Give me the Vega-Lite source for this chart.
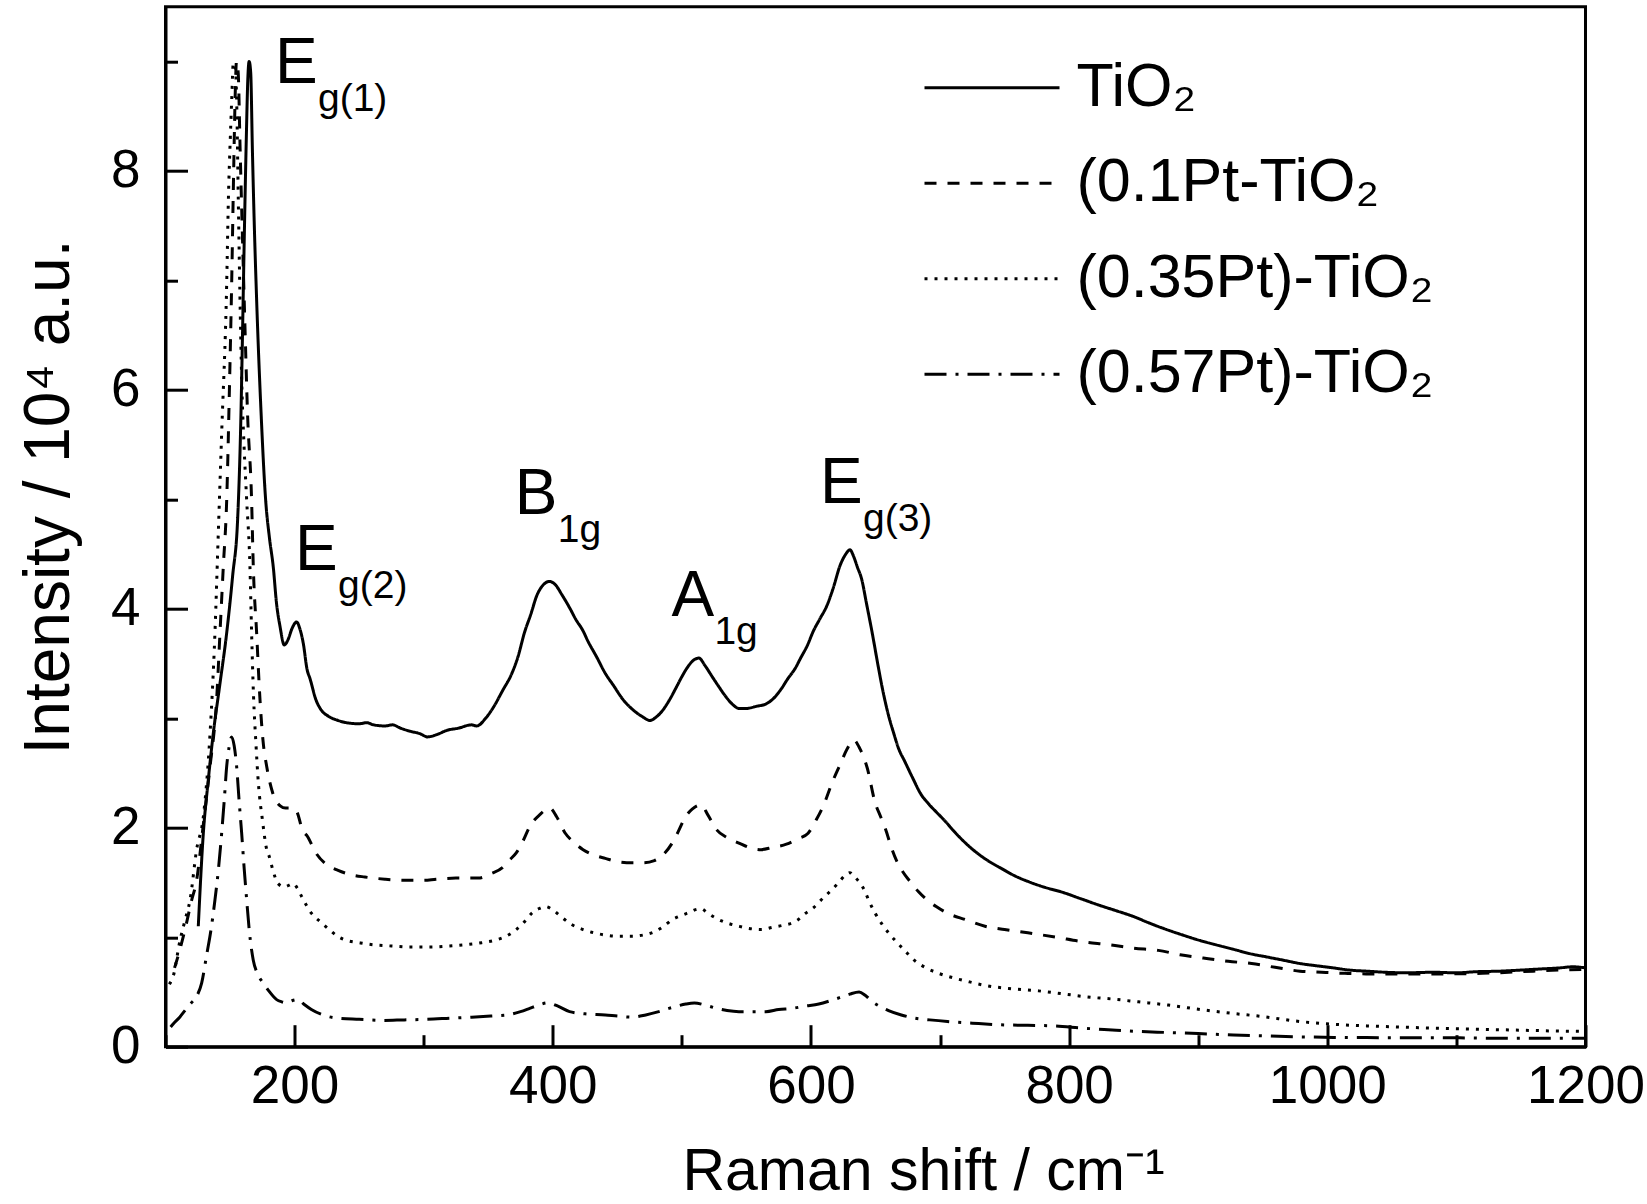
{
  "$schema": "https://vega.github.io/schema/vega-lite/v6.json",
  "width": 1420,
  "height": 1040,
  "autosize": {"type": "none"},
  "padding": {"left": 165.5, "top": 6.7, "right": 61.5, "bottom": 157.3},
  "background": "white",
  "config": {
    "font": "Liberation Sans",
    "view": {"stroke": "black", "strokeWidth": 3},
    "axis": {"domainColor": "black", "domainWidth": 3, "tickColor": "black", "tickWidth": 3, "labelColor": "black", "titleColor": "black", "grid": false, "labelFont": "Liberation Sans", "titleFont": "Liberation Sans", "titleFontWeight": "normal"}
  },
  "datasets": {
    "spectra": [
      {"s": "TiO₂", "x": 125.4, "y": 1.10}, {"s": "TiO₂", "x": 129.3, "y": 1.95}, {"s": "TiO₂", "x": 133, "y": 2.42}, {"s": "TiO₂", "x": 137, "y": 2.86}, {"s": "TiO₂", "x": 142, "y": 3.30}, {"s": "TiO₂", "x": 147.4, "y": 3.78}, {"s": "TiO₂", "x": 152, "y": 4.30}, {"s": "TiO₂", "x": 156, "y": 4.85}, {"s": "TiO₂", "x": 158.3, "y": 5.7}, {"s": "TiO₂", "x": 159.8, "y": 6.6}, {"s": "TiO₂", "x": 161.2, "y": 7.5}, {"s": "TiO₂", "x": 162.6, "y": 8.3}, {"s": "TiO₂", "x": 163.8, "y": 8.85}, {"s": "TiO₂", "x": 164.8, "y": 9.0}, {"s": "TiO₂", "x": 166.0, "y": 8.9}, {"s": "TiO₂", "x": 167.3, "y": 8.2}, {"s": "TiO₂", "x": 168.8, "y": 7.5}, {"s": "TiO₂", "x": 170.6, "y": 6.82}, {"s": "TiO₂", "x": 174, "y": 5.8}, {"s": "TiO₂", "x": 177.6, "y": 4.99}, {"s": "TiO₂", "x": 180.5, "y": 4.65}, {"s": "TiO₂", "x": 183.5, "y": 4.38}, {"s": "TiO₂", "x": 186, "y": 4.05}, {"s": "TiO₂", "x": 188.7, "y": 3.84}, {"s": "TiO₂", "x": 192, "y": 3.67}, {"s": "TiO₂", "x": 195, "y": 3.72}, {"s": "TiO₂", "x": 198, "y": 3.82}, {"s": "TiO₂", "x": 201.6, "y": 3.88}, {"s": "TiO₂", "x": 204, "y": 3.82}, {"s": "TiO₂", "x": 206.8, "y": 3.68}, {"s": "TiO₂", "x": 209.6, "y": 3.45}, {"s": "TiO₂", "x": 212, "y": 3.36}, {"s": "TiO₂", "x": 216.5, "y": 3.17}, {"s": "TiO₂", "x": 221, "y": 3.07}, {"s": "TiO₂", "x": 226, "y": 3.02}, {"s": "TiO₂", "x": 233.7, "y": 2.98}, {"s": "TiO₂", "x": 240, "y": 2.96}, {"s": "TiO₂", "x": 250, "y": 2.95}, {"s": "TiO₂", "x": 256, "y": 2.96}, {"s": "TiO₂", "x": 261, "y": 2.94}, {"s": "TiO₂", "x": 270, "y": 2.93}, {"s": "TiO₂", "x": 276, "y": 2.94}, {"s": "TiO₂", "x": 282, "y": 2.91}, {"s": "TiO₂", "x": 290, "y": 2.88}, {"s": "TiO₂", "x": 297, "y": 2.86}, {"s": "TiO₂", "x": 303, "y": 2.83}, {"s": "TiO₂", "x": 310, "y": 2.85}, {"s": "TiO₂", "x": 318, "y": 2.89}, {"s": "TiO₂", "x": 327, "y": 2.91}, {"s": "TiO₂", "x": 337, "y": 2.94}, {"s": "TiO₂", "x": 341, "y": 2.93}, {"s": "TiO₂", "x": 348, "y": 3.00}, {"s": "TiO₂", "x": 354.5, "y": 3.11}, {"s": "TiO₂", "x": 361, "y": 3.25}, {"s": "TiO₂", "x": 368.3, "y": 3.41}, {"s": "TiO₂", "x": 373, "y": 3.56}, {"s": "TiO₂", "x": 378, "y": 3.78}, {"s": "TiO₂", "x": 383, "y": 3.95}, {"s": "TiO₂", "x": 387.6, "y": 4.12}, {"s": "TiO₂", "x": 392, "y": 4.21}, {"s": "TiO₂", "x": 397.3, "y": 4.25}, {"s": "TiO₂", "x": 402, "y": 4.22}, {"s": "TiO₂", "x": 407, "y": 4.13}, {"s": "TiO₂", "x": 413, "y": 4.01}, {"s": "TiO₂", "x": 418, "y": 3.90}, {"s": "TiO₂", "x": 423.4, "y": 3.80}, {"s": "TiO₂", "x": 427, "y": 3.71}, {"s": "TiO₂", "x": 434, "y": 3.56}, {"s": "TiO₂", "x": 440.7, "y": 3.41}, {"s": "TiO₂", "x": 447, "y": 3.30}, {"s": "TiO₂", "x": 454.5, "y": 3.17}, {"s": "TiO₂", "x": 460, "y": 3.10}, {"s": "TiO₂", "x": 465, "y": 3.05}, {"s": "TiO₂", "x": 470, "y": 3.01}, {"s": "TiO₂", "x": 475.2, "y": 2.98}, {"s": "TiO₂", "x": 480, "y": 3.01}, {"s": "TiO₂", "x": 485.6, "y": 3.08}, {"s": "TiO₂", "x": 491, "y": 3.18}, {"s": "TiO₂", "x": 496, "y": 3.29}, {"s": "TiO₂", "x": 500, "y": 3.38}, {"s": "TiO₂", "x": 504.6, "y": 3.47}, {"s": "TiO₂", "x": 509, "y": 3.53}, {"s": "TiO₂", "x": 513.2, "y": 3.55}, {"s": "TiO₂", "x": 518, "y": 3.48}, {"s": "TiO₂", "x": 523.5, "y": 3.38}, {"s": "TiO₂", "x": 528, "y": 3.30}, {"s": "TiO₂", "x": 533.9, "y": 3.20}, {"s": "TiO₂", "x": 539, "y": 3.13}, {"s": "TiO₂", "x": 544.2, "y": 3.09}, {"s": "TiO₂", "x": 550, "y": 3.09}, {"s": "TiO₂", "x": 558, "y": 3.11}, {"s": "TiO₂", "x": 565, "y": 3.13}, {"s": "TiO₂", "x": 570, "y": 3.17}, {"s": "TiO₂", "x": 577.1, "y": 3.27}, {"s": "TiO₂", "x": 582, "y": 3.36}, {"s": "TiO₂", "x": 588, "y": 3.46}, {"s": "TiO₂", "x": 592, "y": 3.55}, {"s": "TiO₂", "x": 597, "y": 3.66}, {"s": "TiO₂", "x": 602, "y": 3.80}, {"s": "TiO₂", "x": 607, "y": 3.91}, {"s": "TiO₂", "x": 612.4, "y": 4.03}, {"s": "TiO₂", "x": 617, "y": 4.18}, {"s": "TiO₂", "x": 622.7, "y": 4.40}, {"s": "TiO₂", "x": 627, "y": 4.50}, {"s": "TiO₂", "x": 630.2, "y": 4.54}, {"s": "TiO₂", "x": 633, "y": 4.48}, {"s": "TiO₂", "x": 636, "y": 4.38}, {"s": "TiO₂", "x": 639.3, "y": 4.27}, {"s": "TiO₂", "x": 643, "y": 4.05}, {"s": "TiO₂", "x": 647.6, "y": 3.77}, {"s": "TiO₂", "x": 652, "y": 3.48}, {"s": "TiO₂", "x": 655.9, "y": 3.24}, {"s": "TiO₂", "x": 660, "y": 3.03}, {"s": "TiO₂", "x": 664.2, "y": 2.86}, {"s": "TiO₂", "x": 668, "y": 2.72}, {"s": "TiO₂", "x": 672.5, "y": 2.61}, {"s": "TiO₂", "x": 679, "y": 2.45}, {"s": "TiO₂", "x": 685, "y": 2.31}, {"s": "TiO₂", "x": 691, "y": 2.22}, {"s": "TiO₂", "x": 697.4, "y": 2.14}, {"s": "TiO₂", "x": 704, "y": 2.06}, {"s": "TiO₂", "x": 709.9, "y": 1.98}, {"s": "TiO₂", "x": 718, "y": 1.88}, {"s": "TiO₂", "x": 726.5, "y": 1.79}, {"s": "TiO₂", "x": 737, "y": 1.70}, {"s": "TiO₂", "x": 747.2, "y": 1.63}, {"s": "TiO₂", "x": 758, "y": 1.56}, {"s": "TiO₂", "x": 768, "y": 1.51}, {"s": "TiO₂", "x": 780, "y": 1.46}, {"s": "TiO₂", "x": 795, "y": 1.41}, {"s": "TiO₂", "x": 809.4, "y": 1.35}, {"s": "TiO₂", "x": 823.9, "y": 1.29}, {"s": "TiO₂", "x": 837, "y": 1.24}, {"s": "TiO₂", "x": 849.7, "y": 1.19}, {"s": "TiO₂", "x": 862, "y": 1.13}, {"s": "TiO₂", "x": 875.5, "y": 1.07}, {"s": "TiO₂", "x": 888, "y": 1.02}, {"s": "TiO₂", "x": 901.4, "y": 0.97}, {"s": "TiO₂", "x": 914, "y": 0.93}, {"s": "TiO₂", "x": 927.2, "y": 0.89}, {"s": "TiO₂", "x": 940, "y": 0.85}, {"s": "TiO₂", "x": 953, "y": 0.82}, {"s": "TiO₂", "x": 966, "y": 0.79}, {"s": "TiO₂", "x": 978.8, "y": 0.76}, {"s": "TiO₂", "x": 991, "y": 0.74}, {"s": "TiO₂", "x": 1004.6, "y": 0.72}, {"s": "TiO₂", "x": 1017, "y": 0.70}, {"s": "TiO₂", "x": 1030.5, "y": 0.69}, {"s": "TiO₂", "x": 1045, "y": 0.68}, {"s": "TiO₂", "x": 1060, "y": 0.675}, {"s": "TiO₂", "x": 1082, "y": 0.68}, {"s": "TiO₂", "x": 1100, "y": 0.675}, {"s": "TiO₂", "x": 1115, "y": 0.685}, {"s": "TiO₂", "x": 1133.7, "y": 0.69}, {"s": "TiO₂", "x": 1150, "y": 0.70}, {"s": "TiO₂", "x": 1165, "y": 0.71}, {"s": "TiO₂", "x": 1180, "y": 0.72}, {"s": "TiO₂", "x": 1190, "y": 0.73}, {"s": "TiO₂", "x": 1200, "y": 0.72},

      {"s": "(0.1Pt-TiO₂", "x": 107, "y": 0.72}, {"s": "(0.1Pt-TiO₂", "x": 111, "y": 0.88}, {"s": "(0.1Pt-TiO₂", "x": 115.1, "y": 1.07}, {"s": "(0.1Pt-TiO₂", "x": 120.3, "y": 1.34}, {"s": "(0.1Pt-TiO₂", "x": 124.1, "y": 1.52}, {"s": "(0.1Pt-TiO₂", "x": 129, "y": 2.0}, {"s": "(0.1Pt-TiO₂", "x": 134.5, "y": 2.56}, {"s": "(0.1Pt-TiO₂", "x": 139.6, "y": 3.17}, {"s": "(0.1Pt-TiO₂", "x": 142.2, "y": 3.78}, {"s": "(0.1Pt-TiO₂", "x": 144.8, "y": 4.39}, {"s": "(0.1Pt-TiO₂", "x": 147.4, "y": 4.99}, {"s": "(0.1Pt-TiO₂", "x": 149.5, "y": 6.0}, {"s": "(0.1Pt-TiO₂", "x": 151.3, "y": 7.0}, {"s": "(0.1Pt-TiO₂", "x": 152.8, "y": 8.0}, {"s": "(0.1Pt-TiO₂", "x": 154, "y": 8.7}, {"s": "(0.1Pt-TiO₂", "x": 155, "y": 9.0}, {"s": "(0.1Pt-TiO₂", "x": 156.3, "y": 8.9}, {"s": "(0.1Pt-TiO₂", "x": 157.8, "y": 8.2}, {"s": "(0.1Pt-TiO₂", "x": 159.6, "y": 7.4}, {"s": "(0.1Pt-TiO₂", "x": 161.5, "y": 6.6}, {"s": "(0.1Pt-TiO₂", "x": 163.5, "y": 5.8}, {"s": "(0.1Pt-TiO₂", "x": 166.7, "y": 4.99}, {"s": "(0.1Pt-TiO₂", "x": 168, "y": 4.39}, {"s": "(0.1Pt-TiO₂", "x": 170.6, "y": 3.78}, {"s": "(0.1Pt-TiO₂", "x": 173.2, "y": 3.17}, {"s": "(0.1Pt-TiO₂", "x": 175.5, "y": 2.80}, {"s": "(0.1Pt-TiO₂", "x": 178.4, "y": 2.56}, {"s": "(0.1Pt-TiO₂", "x": 183, "y": 2.32}, {"s": "(0.1Pt-TiO₂", "x": 188.9, "y": 2.20}, {"s": "(0.1Pt-TiO₂", "x": 193, "y": 2.18}, {"s": "(0.1Pt-TiO₂", "x": 199.2, "y": 2.18}, {"s": "(0.1Pt-TiO₂", "x": 202, "y": 2.14}, {"s": "(0.1Pt-TiO₂", "x": 206.1, "y": 1.98}, {"s": "(0.1Pt-TiO₂", "x": 210, "y": 1.92}, {"s": "(0.1Pt-TiO₂", "x": 216.5, "y": 1.77}, {"s": "(0.1Pt-TiO₂", "x": 224, "y": 1.67}, {"s": "(0.1Pt-TiO₂", "x": 233.7, "y": 1.61}, {"s": "(0.1Pt-TiO₂", "x": 244, "y": 1.57}, {"s": "(0.1Pt-TiO₂", "x": 254.4, "y": 1.55}, {"s": "(0.1Pt-TiO₂", "x": 270, "y": 1.53}, {"s": "(0.1Pt-TiO₂", "x": 285.5, "y": 1.52}, {"s": "(0.1Pt-TiO₂", "x": 300, "y": 1.52}, {"s": "(0.1Pt-TiO₂", "x": 309.6, "y": 1.53}, {"s": "(0.1Pt-TiO₂", "x": 325, "y": 1.54}, {"s": "(0.1Pt-TiO₂", "x": 342.4, "y": 1.54}, {"s": "(0.1Pt-TiO₂", "x": 352, "y": 1.58}, {"s": "(0.1Pt-TiO₂", "x": 361.4, "y": 1.64}, {"s": "(0.1Pt-TiO₂", "x": 366, "y": 1.70}, {"s": "(0.1Pt-TiO₂", "x": 371.7, "y": 1.77}, {"s": "(0.1Pt-TiO₂", "x": 377, "y": 1.88}, {"s": "(0.1Pt-TiO₂", "x": 382.1, "y": 2.01}, {"s": "(0.1Pt-TiO₂", "x": 390, "y": 2.12}, {"s": "(0.1Pt-TiO₂", "x": 397.6, "y": 2.18}, {"s": "(0.1Pt-TiO₂", "x": 403, "y": 2.10}, {"s": "(0.1Pt-TiO₂", "x": 409.7, "y": 1.95}, {"s": "(0.1Pt-TiO₂", "x": 416, "y": 1.87}, {"s": "(0.1Pt-TiO₂", "x": 423.5, "y": 1.80}, {"s": "(0.1Pt-TiO₂", "x": 432, "y": 1.75}, {"s": "(0.1Pt-TiO₂", "x": 440.7, "y": 1.72}, {"s": "(0.1Pt-TiO₂", "x": 450, "y": 1.69}, {"s": "(0.1Pt-TiO₂", "x": 461.4, "y": 1.68}, {"s": "(0.1Pt-TiO₂", "x": 470, "y": 1.68}, {"s": "(0.1Pt-TiO₂", "x": 478.7, "y": 1.70}, {"s": "(0.1Pt-TiO₂", "x": 486, "y": 1.76}, {"s": "(0.1Pt-TiO₂", "x": 492.5, "y": 1.86}, {"s": "(0.1Pt-TiO₂", "x": 497, "y": 1.96}, {"s": "(0.1Pt-TiO₂", "x": 502.8, "y": 2.10}, {"s": "(0.1Pt-TiO₂", "x": 508, "y": 2.17}, {"s": "(0.1Pt-TiO₂", "x": 514.9, "y": 2.21}, {"s": "(0.1Pt-TiO₂", "x": 520, "y": 2.12}, {"s": "(0.1Pt-TiO₂", "x": 527, "y": 1.98}, {"s": "(0.1Pt-TiO₂", "x": 535, "y": 1.91}, {"s": "(0.1Pt-TiO₂", "x": 544.2, "y": 1.86}, {"s": "(0.1Pt-TiO₂", "x": 552, "y": 1.82}, {"s": "(0.1Pt-TiO₂", "x": 561.5, "y": 1.80}, {"s": "(0.1Pt-TiO₂", "x": 570, "y": 1.82}, {"s": "(0.1Pt-TiO₂", "x": 581, "y": 1.85}, {"s": "(0.1Pt-TiO₂", "x": 590, "y": 1.90}, {"s": "(0.1Pt-TiO₂", "x": 597.8, "y": 1.95}, {"s": "(0.1Pt-TiO₂", "x": 604, "y": 2.07}, {"s": "(0.1Pt-TiO₂", "x": 610.3, "y": 2.22}, {"s": "(0.1Pt-TiO₂", "x": 616, "y": 2.40}, {"s": "(0.1Pt-TiO₂", "x": 622.7, "y": 2.58}, {"s": "(0.1Pt-TiO₂", "x": 628, "y": 2.72}, {"s": "(0.1Pt-TiO₂", "x": 633.1, "y": 2.80}, {"s": "(0.1Pt-TiO₂", "x": 638, "y": 2.72}, {"s": "(0.1Pt-TiO₂", "x": 643.5, "y": 2.55}, {"s": "(0.1Pt-TiO₂", "x": 649.7, "y": 2.23}, {"s": "(0.1Pt-TiO₂", "x": 654, "y": 2.10}, {"s": "(0.1Pt-TiO₂", "x": 658, "y": 1.98}, {"s": "(0.1Pt-TiO₂", "x": 662, "y": 1.83}, {"s": "(0.1Pt-TiO₂", "x": 666.3, "y": 1.70}, {"s": "(0.1Pt-TiO₂", "x": 671, "y": 1.60}, {"s": "(0.1Pt-TiO₂", "x": 676.7, "y": 1.51}, {"s": "(0.1Pt-TiO₂", "x": 683, "y": 1.42}, {"s": "(0.1Pt-TiO₂", "x": 689.1, "y": 1.35}, {"s": "(0.1Pt-TiO₂", "x": 697, "y": 1.28}, {"s": "(0.1Pt-TiO₂", "x": 705.7, "y": 1.22}, {"s": "(0.1Pt-TiO₂", "x": 720, "y": 1.16}, {"s": "(0.1Pt-TiO₂", "x": 734.8, "y": 1.10}, {"s": "(0.1Pt-TiO₂", "x": 750, "y": 1.07}, {"s": "(0.1Pt-TiO₂", "x": 768, "y": 1.04}, {"s": "(0.1Pt-TiO₂", "x": 790, "y": 1.00}, {"s": "(0.1Pt-TiO₂", "x": 809.4, "y": 0.96}, {"s": "(0.1Pt-TiO₂", "x": 831.6, "y": 0.93}, {"s": "(0.1Pt-TiO₂", "x": 849.7, "y": 0.90}, {"s": "(0.1Pt-TiO₂", "x": 869.1, "y": 0.88}, {"s": "(0.1Pt-TiO₂", "x": 885.9, "y": 0.84}, {"s": "(0.1Pt-TiO₂", "x": 903.9, "y": 0.81}, {"s": "(0.1Pt-TiO₂", "x": 923.3, "y": 0.78}, {"s": "(0.1Pt-TiO₂", "x": 941.4, "y": 0.76}, {"s": "(0.1Pt-TiO₂", "x": 959.5, "y": 0.725}, {"s": "(0.1Pt-TiO₂", "x": 978.8, "y": 0.69}, {"s": "(0.1Pt-TiO₂", "x": 995.6, "y": 0.68}, {"s": "(0.1Pt-TiO₂", "x": 1013.7, "y": 0.67}, {"s": "(0.1Pt-TiO₂", "x": 1030, "y": 0.665}, {"s": "(0.1Pt-TiO₂", "x": 1060, "y": 0.665}, {"s": "(0.1Pt-TiO₂", "x": 1090, "y": 0.665}, {"s": "(0.1Pt-TiO₂", "x": 1120, "y": 0.67}, {"s": "(0.1Pt-TiO₂", "x": 1150, "y": 0.685}, {"s": "(0.1Pt-TiO₂", "x": 1180, "y": 0.70}, {"s": "(0.1Pt-TiO₂", "x": 1200, "y": 0.705},

      {"s": "(0.35Pt)-TiO₂", "x": 103, "y": 0.57}, {"s": "(0.35Pt)-TiO₂", "x": 106.1, "y": 0.65}, {"s": "(0.35Pt)-TiO₂", "x": 111.2, "y": 0.97}, {"s": "(0.35Pt)-TiO₂", "x": 115, "y": 1.15}, {"s": "(0.35Pt)-TiO₂", "x": 119, "y": 1.34}, {"s": "(0.35Pt)-TiO₂", "x": 124.1, "y": 1.80}, {"s": "(0.35Pt)-TiO₂", "x": 129.3, "y": 2.10}, {"s": "(0.35Pt)-TiO₂", "x": 134.5, "y": 2.86}, {"s": "(0.35Pt)-TiO₂", "x": 138.3, "y": 3.78}, {"s": "(0.35Pt)-TiO₂", "x": 140.9, "y": 4.69}, {"s": "(0.35Pt)-TiO₂", "x": 143.5, "y": 5.6}, {"s": "(0.35Pt)-TiO₂", "x": 147.4, "y": 6.97}, {"s": "(0.35Pt)-TiO₂", "x": 148.7, "y": 7.73}, {"s": "(0.35Pt)-TiO₂", "x": 150.2, "y": 8.3}, {"s": "(0.35Pt)-TiO₂", "x": 151.3, "y": 8.65}, {"s": "(0.35Pt)-TiO₂", "x": 152.5, "y": 8.98}, {"s": "(0.35Pt)-TiO₂", "x": 153.8, "y": 8.98}, {"s": "(0.35Pt)-TiO₂", "x": 155.1, "y": 8.65}, {"s": "(0.35Pt)-TiO₂", "x": 156.4, "y": 7.73}, {"s": "(0.35Pt)-TiO₂", "x": 157.6, "y": 6.9}, {"s": "(0.35Pt)-TiO₂", "x": 159, "y": 6.1}, {"s": "(0.35Pt)-TiO₂", "x": 160.8, "y": 5.5}, {"s": "(0.35Pt)-TiO₂", "x": 162.9, "y": 4.99}, {"s": "(0.35Pt)-TiO₂", "x": 165.4, "y": 4.39}, {"s": "(0.35Pt)-TiO₂", "x": 166.7, "y": 3.78}, {"s": "(0.35Pt)-TiO₂", "x": 168.2, "y": 3.2}, {"s": "(0.35Pt)-TiO₂", "x": 169.9, "y": 2.80}, {"s": "(0.35Pt)-TiO₂", "x": 172, "y": 2.40}, {"s": "(0.35Pt)-TiO₂", "x": 175.1, "y": 2.07}, {"s": "(0.35Pt)-TiO₂", "x": 178.4, "y": 1.80}, {"s": "(0.35Pt)-TiO₂", "x": 180.3, "y": 1.74}, {"s": "(0.35Pt)-TiO₂", "x": 183, "y": 1.62}, {"s": "(0.35Pt)-TiO₂", "x": 187.2, "y": 1.49}, {"s": "(0.35Pt)-TiO₂", "x": 192, "y": 1.46}, {"s": "(0.35Pt)-TiO₂", "x": 199.2, "y": 1.49}, {"s": "(0.35Pt)-TiO₂", "x": 202, "y": 1.45}, {"s": "(0.35Pt)-TiO₂", "x": 206, "y": 1.36}, {"s": "(0.35Pt)-TiO₂", "x": 213, "y": 1.22}, {"s": "(0.35Pt)-TiO₂", "x": 220, "y": 1.14}, {"s": "(0.35Pt)-TiO₂", "x": 226.8, "y": 1.07}, {"s": "(0.35Pt)-TiO₂", "x": 233, "y": 1.01}, {"s": "(0.35Pt)-TiO₂", "x": 240.6, "y": 0.97}, {"s": "(0.35Pt)-TiO₂", "x": 250, "y": 0.95}, {"s": "(0.35Pt)-TiO₂", "x": 261.3, "y": 0.93}, {"s": "(0.35Pt)-TiO₂", "x": 275, "y": 0.92}, {"s": "(0.35Pt)-TiO₂", "x": 288.9, "y": 0.91}, {"s": "(0.35Pt)-TiO₂", "x": 305, "y": 0.91}, {"s": "(0.35Pt)-TiO₂", "x": 320, "y": 0.92}, {"s": "(0.35Pt)-TiO₂", "x": 330.3, "y": 0.93}, {"s": "(0.35Pt)-TiO₂", "x": 345, "y": 0.95}, {"s": "(0.35Pt)-TiO₂", "x": 354.5, "y": 0.97}, {"s": "(0.35Pt)-TiO₂", "x": 364, "y": 1.01}, {"s": "(0.35Pt)-TiO₂", "x": 371.7, "y": 1.07}, {"s": "(0.35Pt)-TiO₂", "x": 378, "y": 1.14}, {"s": "(0.35Pt)-TiO₂", "x": 383.8, "y": 1.22}, {"s": "(0.35Pt)-TiO₂", "x": 389, "y": 1.26}, {"s": "(0.35Pt)-TiO₂", "x": 394.2, "y": 1.28}, {"s": "(0.35Pt)-TiO₂", "x": 400, "y": 1.25}, {"s": "(0.35Pt)-TiO₂", "x": 406.2, "y": 1.19}, {"s": "(0.35Pt)-TiO₂", "x": 414, "y": 1.12}, {"s": "(0.35Pt)-TiO₂", "x": 423.5, "y": 1.07}, {"s": "(0.35Pt)-TiO₂", "x": 432, "y": 1.04}, {"s": "(0.35Pt)-TiO₂", "x": 440.7, "y": 1.02}, {"s": "(0.35Pt)-TiO₂", "x": 450, "y": 1.01}, {"s": "(0.35Pt)-TiO₂", "x": 461.4, "y": 1.01}, {"s": "(0.35Pt)-TiO₂", "x": 470, "y": 1.02}, {"s": "(0.35Pt)-TiO₂", "x": 478.7, "y": 1.05}, {"s": "(0.35Pt)-TiO₂", "x": 486, "y": 1.10}, {"s": "(0.35Pt)-TiO₂", "x": 492.5, "y": 1.16}, {"s": "(0.35Pt)-TiO₂", "x": 500, "y": 1.20}, {"s": "(0.35Pt)-TiO₂", "x": 506.3, "y": 1.23}, {"s": "(0.35Pt)-TiO₂", "x": 510, "y": 1.25}, {"s": "(0.35Pt)-TiO₂", "x": 514.9, "y": 1.26}, {"s": "(0.35Pt)-TiO₂", "x": 520, "y": 1.22}, {"s": "(0.35Pt)-TiO₂", "x": 527, "y": 1.17}, {"s": "(0.35Pt)-TiO₂", "x": 535, "y": 1.13}, {"s": "(0.35Pt)-TiO₂", "x": 544.2, "y": 1.10}, {"s": "(0.35Pt)-TiO₂", "x": 552, "y": 1.08}, {"s": "(0.35Pt)-TiO₂", "x": 561.5, "y": 1.07}, {"s": "(0.35Pt)-TiO₂", "x": 570, "y": 1.09}, {"s": "(0.35Pt)-TiO₂", "x": 578.7, "y": 1.11}, {"s": "(0.35Pt)-TiO₂", "x": 585.4, "y": 1.13}, {"s": "(0.35Pt)-TiO₂", "x": 590, "y": 1.16}, {"s": "(0.35Pt)-TiO₂", "x": 596, "y": 1.22}, {"s": "(0.35Pt)-TiO₂", "x": 602, "y": 1.27}, {"s": "(0.35Pt)-TiO₂", "x": 607, "y": 1.33}, {"s": "(0.35Pt)-TiO₂", "x": 613.2, "y": 1.40}, {"s": "(0.35Pt)-TiO₂", "x": 620, "y": 1.48}, {"s": "(0.35Pt)-TiO₂", "x": 627, "y": 1.57}, {"s": "(0.35Pt)-TiO₂", "x": 630, "y": 1.59}, {"s": "(0.35Pt)-TiO₂", "x": 634, "y": 1.55}, {"s": "(0.35Pt)-TiO₂", "x": 641.4, "y": 1.43}, {"s": "(0.35Pt)-TiO₂", "x": 645, "y": 1.33}, {"s": "(0.35Pt)-TiO₂", "x": 649.7, "y": 1.22}, {"s": "(0.35Pt)-TiO₂", "x": 655, "y": 1.12}, {"s": "(0.35Pt)-TiO₂", "x": 660.1, "y": 1.04}, {"s": "(0.35Pt)-TiO₂", "x": 666, "y": 0.96}, {"s": "(0.35Pt)-TiO₂", "x": 672.5, "y": 0.88}, {"s": "(0.35Pt)-TiO₂", "x": 680, "y": 0.79}, {"s": "(0.35Pt)-TiO₂", "x": 689.1, "y": 0.72}, {"s": "(0.35Pt)-TiO₂", "x": 699, "y": 0.67}, {"s": "(0.35Pt)-TiO₂", "x": 709.9, "y": 0.63}, {"s": "(0.35Pt)-TiO₂", "x": 720, "y": 0.60}, {"s": "(0.35Pt)-TiO₂", "x": 734.8, "y": 0.56}, {"s": "(0.35Pt)-TiO₂", "x": 755, "y": 0.53}, {"s": "(0.35Pt)-TiO₂", "x": 776.2, "y": 0.51}, {"s": "(0.35Pt)-TiO₂", "x": 797, "y": 0.48}, {"s": "(0.35Pt)-TiO₂", "x": 817.7, "y": 0.45}, {"s": "(0.35Pt)-TiO₂", "x": 829, "y": 0.44}, {"s": "(0.35Pt)-TiO₂", "x": 853.6, "y": 0.41}, {"s": "(0.35Pt)-TiO₂", "x": 876.8, "y": 0.38}, {"s": "(0.35Pt)-TiO₂", "x": 901.4, "y": 0.34}, {"s": "(0.35Pt)-TiO₂", "x": 925.9, "y": 0.305}, {"s": "(0.35Pt)-TiO₂", "x": 950.4, "y": 0.275}, {"s": "(0.35Pt)-TiO₂", "x": 975, "y": 0.235}, {"s": "(0.35Pt)-TiO₂", "x": 998.2, "y": 0.21}, {"s": "(0.35Pt)-TiO₂", "x": 1030.5, "y": 0.19}, {"s": "(0.35Pt)-TiO₂", "x": 1055, "y": 0.18}, {"s": "(0.35Pt)-TiO₂", "x": 1082, "y": 0.17}, {"s": "(0.35Pt)-TiO₂", "x": 1110, "y": 0.162}, {"s": "(0.35Pt)-TiO₂", "x": 1133.7, "y": 0.155}, {"s": "(0.35Pt)-TiO₂", "x": 1160, "y": 0.148}, {"s": "(0.35Pt)-TiO₂", "x": 1177.6, "y": 0.143}, {"s": "(0.35Pt)-TiO₂", "x": 1200, "y": 0.14},

      {"s": "(0.57Pt)-TiO₂", "x": 104, "y": 0.18}, {"s": "(0.57Pt)-TiO₂", "x": 106.1, "y": 0.21}, {"s": "(0.57Pt)-TiO₂", "x": 111, "y": 0.27}, {"s": "(0.57Pt)-TiO₂", "x": 116.4, "y": 0.35}, {"s": "(0.57Pt)-TiO₂", "x": 120, "y": 0.40}, {"s": "(0.57Pt)-TiO₂", "x": 124.1, "y": 0.46}, {"s": "(0.57Pt)-TiO₂", "x": 128, "y": 0.58}, {"s": "(0.57Pt)-TiO₂", "x": 131.9, "y": 0.84}, {"s": "(0.57Pt)-TiO₂", "x": 135, "y": 1.05}, {"s": "(0.57Pt)-TiO₂", "x": 138.3, "y": 1.34}, {"s": "(0.57Pt)-TiO₂", "x": 141, "y": 1.62}, {"s": "(0.57Pt)-TiO₂", "x": 143.5, "y": 1.95}, {"s": "(0.57Pt)-TiO₂", "x": 145.5, "y": 2.25}, {"s": "(0.57Pt)-TiO₂", "x": 147.4, "y": 2.56}, {"s": "(0.57Pt)-TiO₂", "x": 149.3, "y": 2.74}, {"s": "(0.57Pt)-TiO₂", "x": 151.2, "y": 2.83}, {"s": "(0.57Pt)-TiO₂", "x": 153.2, "y": 2.75}, {"s": "(0.57Pt)-TiO₂", "x": 155.1, "y": 2.56}, {"s": "(0.57Pt)-TiO₂", "x": 157, "y": 2.25}, {"s": "(0.57Pt)-TiO₂", "x": 159, "y": 1.95}, {"s": "(0.57Pt)-TiO₂", "x": 161, "y": 1.62}, {"s": "(0.57Pt)-TiO₂", "x": 162.9, "y": 1.34}, {"s": "(0.57Pt)-TiO₂", "x": 165, "y": 1.05}, {"s": "(0.57Pt)-TiO₂", "x": 168, "y": 0.79}, {"s": "(0.57Pt)-TiO₂", "x": 171.6, "y": 0.66}, {"s": "(0.57Pt)-TiO₂", "x": 175.8, "y": 0.58}, {"s": "(0.57Pt)-TiO₂", "x": 180, "y": 0.51}, {"s": "(0.57Pt)-TiO₂", "x": 186.1, "y": 0.43}, {"s": "(0.57Pt)-TiO₂", "x": 190, "y": 0.41}, {"s": "(0.57Pt)-TiO₂", "x": 194.1, "y": 0.40}, {"s": "(0.57Pt)-TiO₂", "x": 198, "y": 0.42}, {"s": "(0.57Pt)-TiO₂", "x": 202.7, "y": 0.43}, {"s": "(0.57Pt)-TiO₂", "x": 207, "y": 0.39}, {"s": "(0.57Pt)-TiO₂", "x": 213, "y": 0.34}, {"s": "(0.57Pt)-TiO₂", "x": 222, "y": 0.29}, {"s": "(0.57Pt)-TiO₂", "x": 233.7, "y": 0.26}, {"s": "(0.57Pt)-TiO₂", "x": 250, "y": 0.25}, {"s": "(0.57Pt)-TiO₂", "x": 268.2, "y": 0.24}, {"s": "(0.57Pt)-TiO₂", "x": 285, "y": 0.245}, {"s": "(0.57Pt)-TiO₂", "x": 302.7, "y": 0.25}, {"s": "(0.57Pt)-TiO₂", "x": 320, "y": 0.26}, {"s": "(0.57Pt)-TiO₂", "x": 337.2, "y": 0.27}, {"s": "(0.57Pt)-TiO₂", "x": 352, "y": 0.28}, {"s": "(0.57Pt)-TiO₂", "x": 364.8, "y": 0.29}, {"s": "(0.57Pt)-TiO₂", "x": 375, "y": 0.32}, {"s": "(0.57Pt)-TiO₂", "x": 382.1, "y": 0.35}, {"s": "(0.57Pt)-TiO₂", "x": 389, "y": 0.38}, {"s": "(0.57Pt)-TiO₂", "x": 395.9, "y": 0.40}, {"s": "(0.57Pt)-TiO₂", "x": 404, "y": 0.37}, {"s": "(0.57Pt)-TiO₂", "x": 413, "y": 0.32}, {"s": "(0.57Pt)-TiO₂", "x": 425, "y": 0.30}, {"s": "(0.57Pt)-TiO₂", "x": 440.7, "y": 0.29}, {"s": "(0.57Pt)-TiO₂", "x": 450, "y": 0.28}, {"s": "(0.57Pt)-TiO₂", "x": 461.4, "y": 0.27}, {"s": "(0.57Pt)-TiO₂", "x": 472, "y": 0.29}, {"s": "(0.57Pt)-TiO₂", "x": 482.1, "y": 0.32}, {"s": "(0.57Pt)-TiO₂", "x": 490, "y": 0.35}, {"s": "(0.57Pt)-TiO₂", "x": 496, "y": 0.37}, {"s": "(0.57Pt)-TiO₂", "x": 503, "y": 0.39}, {"s": "(0.57Pt)-TiO₂", "x": 509.7, "y": 0.40}, {"s": "(0.57Pt)-TiO₂", "x": 518, "y": 0.38}, {"s": "(0.57Pt)-TiO₂", "x": 527, "y": 0.35}, {"s": "(0.57Pt)-TiO₂", "x": 535, "y": 0.33}, {"s": "(0.57Pt)-TiO₂", "x": 544.2, "y": 0.32}, {"s": "(0.57Pt)-TiO₂", "x": 552, "y": 0.32}, {"s": "(0.57Pt)-TiO₂", "x": 565, "y": 0.32}, {"s": "(0.57Pt)-TiO₂", "x": 575, "y": 0.34}, {"s": "(0.57Pt)-TiO₂", "x": 585.4, "y": 0.35}, {"s": "(0.57Pt)-TiO₂", "x": 595, "y": 0.37}, {"s": "(0.57Pt)-TiO₂", "x": 606.1, "y": 0.39}, {"s": "(0.57Pt)-TiO₂", "x": 615, "y": 0.42}, {"s": "(0.57Pt)-TiO₂", "x": 622.7, "y": 0.45}, {"s": "(0.57Pt)-TiO₂", "x": 630, "y": 0.48}, {"s": "(0.57Pt)-TiO₂", "x": 637.3, "y": 0.50}, {"s": "(0.57Pt)-TiO₂", "x": 642, "y": 0.47}, {"s": "(0.57Pt)-TiO₂", "x": 647.6, "y": 0.41}, {"s": "(0.57Pt)-TiO₂", "x": 653, "y": 0.37}, {"s": "(0.57Pt)-TiO₂", "x": 660.1, "y": 0.33}, {"s": "(0.57Pt)-TiO₂", "x": 670, "y": 0.29}, {"s": "(0.57Pt)-TiO₂", "x": 680.8, "y": 0.26}, {"s": "(0.57Pt)-TiO₂", "x": 692, "y": 0.245}, {"s": "(0.57Pt)-TiO₂", "x": 705.7, "y": 0.23}, {"s": "(0.57Pt)-TiO₂", "x": 725, "y": 0.215}, {"s": "(0.57Pt)-TiO₂", "x": 747.2, "y": 0.20}, {"s": "(0.57Pt)-TiO₂", "x": 768, "y": 0.195}, {"s": "(0.57Pt)-TiO₂", "x": 788.7, "y": 0.19}, {"s": "(0.57Pt)-TiO₂", "x": 810, "y": 0.17}, {"s": "(0.57Pt)-TiO₂", "x": 830.2, "y": 0.155}, {"s": "(0.57Pt)-TiO₂", "x": 852, "y": 0.14}, {"s": "(0.57Pt)-TiO₂", "x": 875.5, "y": 0.13}, {"s": "(0.57Pt)-TiO₂", "x": 900, "y": 0.12}, {"s": "(0.57Pt)-TiO₂", "x": 927.2, "y": 0.107}, {"s": "(0.57Pt)-TiO₂", "x": 950, "y": 0.10}, {"s": "(0.57Pt)-TiO₂", "x": 978.8, "y": 0.09}, {"s": "(0.57Pt)-TiO₂", "x": 1005, "y": 0.085}, {"s": "(0.57Pt)-TiO₂", "x": 1030.5, "y": 0.083}, {"s": "(0.57Pt)-TiO₂", "x": 1060, "y": 0.082}, {"s": "(0.57Pt)-TiO₂", "x": 1082, "y": 0.082}, {"s": "(0.57Pt)-TiO₂", "x": 1110, "y": 0.08}, {"s": "(0.57Pt)-TiO₂", "x": 1133.7, "y": 0.077}, {"s": "(0.57Pt)-TiO₂", "x": 1160, "y": 0.077}, {"s": "(0.57Pt)-TiO₂", "x": 1180, "y": 0.077}, {"s": "(0.57Pt)-TiO₂", "x": 1200, "y": 0.077}
    ],
    "peaks": [
      {"t": "E", "sub": "g(1)", "x": 184.8, "y": 8.80},
      {"t": "E", "sub": "g(2)", "x": 200.4, "y": 4.354},
      {"t": "B", "sub": "1g", "x": 370.6, "y": 4.866},
      {"t": "A", "sub": "1g", "x": 491.9, "y": 3.937},
      {"t": "E", "sub": "g(3)", "x": 607, "y": 4.963}
    ]
  },
  "layer": [
    {
      "data": {"name": "spectra"},
      "mark": {"type": "line", "strokeWidth": 3, "color": "black", "interpolate": "monotone", "clip": true, "strokeCap": "butt"},
      "encoding": {
        "x": {
          "field": "x", "type": "quantitative",
          "scale": {"domain": [100, 1200], "nice": false, "zero": false},
          "axis": {
            "values": [100, 200, 300, 400, 500, 600, 700, 800, 900, 1000, 1100, 1200],
            "labelExpr": "datum.value % 200 === 0 ? format(datum.value, 'd') : ''",
            "tickSize": {"condition": {"test": "datum.value % 200 === 0", "value": -22}, "value": -12},
            "labelFontSize": 53, "labelPadding": 35.5, "labelFlush": false, "labelOverlap": false, "labelBound": false,
            "title": "Raman shift / cm⁻¹", "titleFontSize": 59, "titleX": 757.5, "titleY": 143, "titleAlign": "center", "titleBaseline": "alphabetic", "titleAngle": 0
          }
        },
        "y": {
          "field": "y", "type": "quantitative",
          "scale": {"domain": [0, 9.5], "nice": false, "zero": false},
          "axis": {
            "values": [0, 1, 2, 3, 4, 5, 6, 7, 8, 9],
            "labelExpr": "datum.value % 2 === 0 ? format(datum.value, 'd') : ''",
            "tickSize": {"condition": {"test": "datum.value % 2 === 0", "value": -22}, "value": -12},
            "labelFontSize": 53, "labelPadding": 47.5, "labelFlush": false, "labelOverlap": false, "labelBound": false,
            "title": "Intensity / 10⁴ a.u.", "titleFontSize": 64, "titleX": -97.2, "titleY": 489.8, "titleAlign": "center", "titleBaseline": "alphabetic", "titleAngle": -90
          }
        },
        "strokeDash": {
          "field": "s", "type": "nominal",
          "scale": {"domain": ["TiO₂", "(0.1Pt-TiO₂", "(0.35Pt)-TiO₂", "(0.57Pt)-TiO₂"], "range": [[1, 0], [12, 11], [3, 7], [22, 9, 3, 9]]},
          "legend": {
            "orient": "none", "legendX": 796, "legendY": 50.6, "title": null,
            "symbolType": "M-3.375,0H3.375", "symbolSize": 1600, "symbolStrokeWidth": 3, "symbolStrokeColor": "black", "symbolFillColor": "transparent",
            "labelFontSize": 61, "labelFont": "Liberation Sans", "labelColor": "black", "labelOffset": 54, "labelLimit": 1000, "rowPadding": 33.5, "padding": 0, "offset": 0
          }
        }
      }
    },
    {
      "data": {"name": "peaks"},
      "mark": {"type": "text", "fontSize": 64, "align": "left", "baseline": "alphabetic", "color": "black", "font": "Liberation Sans"},
      "encoding": {
        "x": {"field": "x", "type": "quantitative"},
        "y": {"field": "y", "type": "quantitative"},
        "text": {"field": "t"}
      }
    },
    {
      "data": {"name": "peaks"},
      "mark": {"type": "text", "fontSize": 39, "align": "left", "baseline": "alphabetic", "color": "black", "font": "Liberation Sans", "dx": 43, "dy": 28},
      "encoding": {
        "x": {"field": "x", "type": "quantitative"},
        "y": {"field": "y", "type": "quantitative"},
        "text": {"field": "sub"}
      }
    }
  ]
}
